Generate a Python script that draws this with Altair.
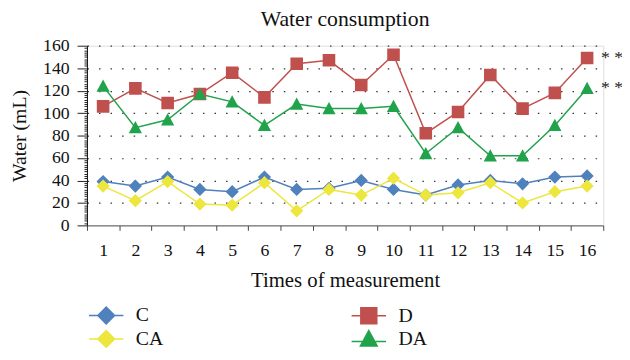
import altair as alt
import pandas as pd

times = list(range(1, 17))
series = ["C", "D", "CA", "DA"]
c_vals = [39, 35, 43, 32, 30, 43, 32, 33, 40, 32, 27, 36, 40, 37, 43, 44]
d_vals = [106, 122, 109, 117, 136, 114, 144, 147, 125, 152, 82, 101, 134, 104, 118, 149]
ca_vals = [35, 22, 39, 19, 18, 38, 13, 32, 27, 42, 27, 29, 38, 20, 30, 35]
da_vals = [124, 87, 94, 117, 110, 89, 108, 104, 104, 106, 64, 87, 62, 62, 89, 122]
colors = ["#4f81bd", "#c0504d", "#ede63c", "#21a34b"]
star_series = ["D", "DA"]
star_text = ["* *", "* *"]

# marker paths with short line stubs (stubs only visible in the legend, where symbols are stroked)
shapes = [
    "M-2.05,0L-1,0M1,0L2.05,0M-1,0L0,-1L1,0L0,1Z",
    "M-2.05,0L-0.95,0M0.95,0L2.05,0M-0.95,-0.95L0.95,-0.95L0.95,0.95L-0.95,0.95Z",
    "M-2.05,0L-1,0M1,0L2.05,0M-1,0L0,-1L1,0L0,1Z",
    "M-2.05,0.3L-0.8,0.3M0.8,0.3L2.05,0.3M0,-1L1,0.85L-1,0.85Z",
]

rows = []
for s, vals in zip(series, [c_vals, d_vals, ca_vals, da_vals]):
    for t, v in zip(times, vals):
        rows.append({"t": t, "v": v, "s": s})
df = pd.DataFrame(rows)

last = {s: vals[-1] for s, vals in zip(series, [c_vals, d_vals, ca_vals, da_vals])}
stars = pd.DataFrame({"t": [times[-1]] * len(star_series), "v": [last[s] for s in star_series],
                      "txt": star_text})

FONT = "Liberation Serif"

x = alt.X("t:O", title="Times of measurement",
          scale=alt.Scale(type="band", paddingInner=0, paddingOuter=0),
          axis=alt.Axis(labelAngle=0, tickBand="extent", tickSize=5, tickColor="#444",
                        domainColor="#555", labelFont=FONT, labelFontSize=18, labelColor="#111",
                        labelBaseline="alphabetic", labelPadding=26, grid=False,
                        titleFont=FONT, titleFontSize=21, titleFontWeight="normal", titleColor="#111",
                        titleBaseline="alphabetic", titleY=62))
y = alt.Y("v:Q", title="Water (mL)",
          scale=alt.Scale(domain=[0, 160], nice=False),
          axis=alt.Axis(values=list(range(0, 161, 2)),
                        labelExpr="datum.value % 20 == 0 ? datum.label : ''",
                        tickSize={"condition": {"test": "datum.value % 20 == 0", "value": 10}, "value": 3},
                        tickColor="#222", domainColor="#111",
                        grid=True,
                        gridOpacity={"condition": {"test": "datum.value % 20 == 0 && datum.value > 0", "value": 1}, "value": 0},
                        gridDash=[1.5, 10.2], gridColor="#333", gridWidth=1.2,
                        labelFont=FONT, labelFontSize=18, labelColor="#111", labelPadding=8,
                        titleFont=FONT, titleFontSize=20, titleFontWeight="normal", titleColor="#111",
                        titleAngle=-90, titleX=-68, titleY=91, titleAlign="center", titleBaseline="middle"))

color_scale = alt.Scale(domain=series, range=colors)
shape_scale = alt.Scale(domain=series, range=shapes)
legend = alt.Legend(title=None, orient="none", legendX=9.5, legendY=263, direction="horizontal", columns=2,
                    columnPadding=187, rowPadding=0, labelFont=FONT, labelFontSize=20,
                    labelColor="#111", symbolSize=289, labelOffset=20, symbolStrokeWidth=1.5)

lines = alt.Chart(df).mark_line(strokeWidth=1.5).encode(
    x=x, y=y,
    color=alt.Color("s:N", scale=color_scale, legend=legend),
    detail="s:N",
)
points = alt.Chart(df).mark_point(filled=True, opacity=1, size=180, strokeWidth=0).encode(
    x=x, y=y,
    color=alt.Color("s:N", scale=color_scale, legend=legend),
    stroke=alt.Stroke("s:N", scale=color_scale, legend=legend),
    shape=alt.Shape("s:N", scale=shape_scale, legend=legend),
)
star_marks = alt.Chart(stars).mark_text(align="left", baseline="middle", dx=14, dy=0,
                                        font=FONT, fontSize=18, color="#222").encode(
    x=x, y=y, text="txt:N")

chart = alt.layer(lines, points, star_marks).properties(
    width=523, height=182,
    title=alt.TitleParams("Water consumption", font=FONT, fontSize=22, fontWeight="normal",
                          color="#111", anchor="middle", baseline="alphabetic", offset=-11),
    autosize=alt.AutoSizeParams(type="none"),
    padding={"left": 80, "top": 36, "right": 19, "bottom": 122},
).configure_view(stroke=None).configure(background="white")

chart.save("out.html", embed_options={"renderer": "svg", "actions": False})
